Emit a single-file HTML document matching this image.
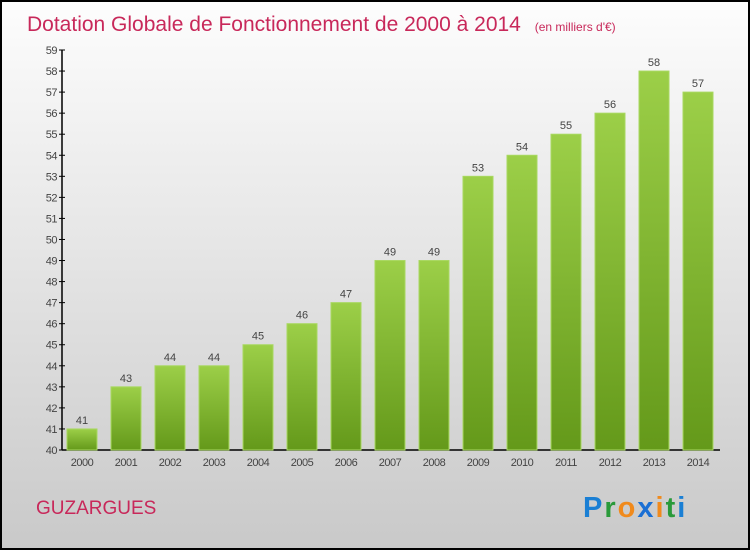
<!DOCTYPE html>
<html><head><meta charset="utf-8"><style>
body{margin:0;width:750px;height:550px;overflow:hidden}
svg{display:block;font-family:"Liberation Sans",sans-serif}
</style></head><body>
<svg width="750" height="550">
<defs>
<linearGradient id="bg" x1="0" y1="0" x2="0" y2="1"><stop offset="0" stop-color="#fdfdfd"/><stop offset="1" stop-color="#c9c9c9"/></linearGradient>
<linearGradient id="bar" x1="0" y1="0" x2="0" y2="1"><stop offset="0" stop-color="#9ccf48"/><stop offset="1" stop-color="#64991a"/></linearGradient>
</defs>
<rect x="1" y="1" width="748" height="548" fill="url(#bg)" stroke="#000" stroke-width="2"/>
<text x="27" y="31" font-size="21" fill="#c8285a">Dotation Globale de Fonctionnement de 2000 à 2014 <tspan font-size="12" dx="8">(en milliers d'€)</tspan></text>
<g id="axes"></g>
<g id="bars"></g>
<text x="36" y="514" font-size="19" fill="#c8285a">GUZARGUES</text>
<text x="583" y="517" font-size="29" font-weight="bold" letter-spacing="2"><tspan fill="#1a7fd4">P</tspan><tspan fill="#2a9a3a">r</tspan><tspan fill="#f08a1c">o</tspan><tspan fill="#1a6fd4">x</tspan><tspan fill="#f08a1c">i</tspan><tspan fill="#2a9a3a">t</tspan><tspan fill="#1a7fd4">i</tspan></text>
</svg>
<script>
const years=["2000","2001","2002","2003","2004","2005","2006","2007","2008","2009","2010","2011","2012","2013","2014"];
const values=[41,43,44,44,45,46,47,49,49,53,54,55,56,58,57];
const yTicks=[40,41,42,43,44,45,46,47,48,49,50,51,52,53,54,55,56,57,58,59];
const NS="http://www.w3.org/2000/svg";
const yMin=40,yMax=59,y0=450,y1=50;
function ys(v){return y0-(v-yMin)*(y0-y1)/(yMax-yMin);}
function xs(i){return 82+i*44;}
function mk(t,a,p){const e=document.createElementNS(NS,t);for(const k in a)e.setAttribute(k,a[k]);p.appendChild(e);return e;}
const ax=document.getElementById('axes'),bg=document.getElementById('bars');
let l=mk('line',{x1:62,y1:y1,x2:62,y2:y0,stroke:'#000','stroke-width':1.5},ax);


l=mk('line',{x1:62,y1:y0,x2:720,y2:y0,stroke:'#000','stroke-width':1.5},ax);


yTicks.forEach(v=>{
 const y=ys(v);
 mk('line',{x1:59,y1:y,x2:65,y2:y,stroke:'#000'},ax);
 const t=mk('text',{x:57,y:y+4,'font-size':11,fill:'#444','text-anchor':'end','letter-spacing':'-0.5'},ax);
 t.textContent=v;
 
 
});
years.forEach((yr,i)=>{
 const x=xs(i),v=values[i],top=ys(v);
 const r=mk('rect',{x:x-15,y:top,width:30,height:y0-top,fill:'url(#bar)',stroke:'#a8d860','stroke-width':1},bg);
 
 
 const vl=mk('text',{x:x,y:top-5,'font-size':11,fill:'#444','text-anchor':'middle'},bg);
 vl.textContent=v;
 
 
 const xl=mk('text',{x:x,y:466,'font-size':11,fill:'#444','text-anchor':'middle','letter-spacing':'-0.5'},ax);
 xl.textContent=yr;
 
 
});
</script>
</body></html>
